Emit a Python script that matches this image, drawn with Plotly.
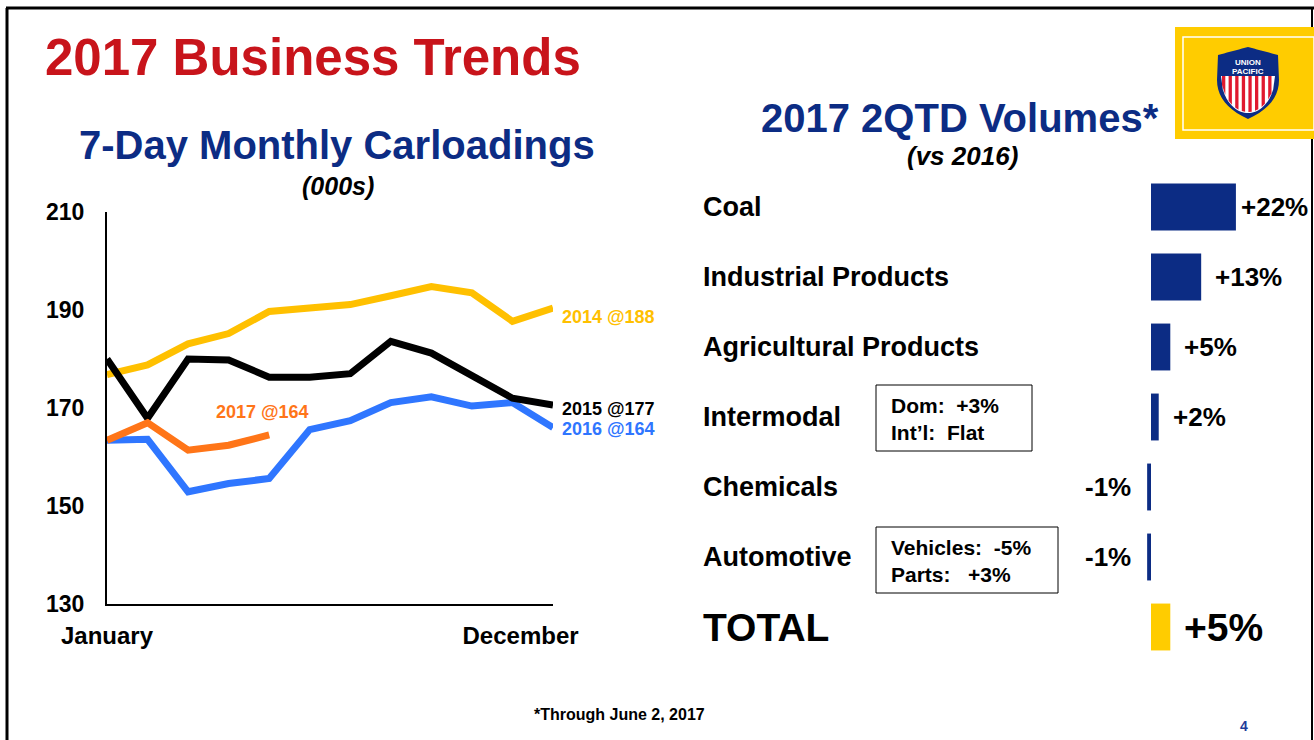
import math
import plotly.graph_objects as go

W, H = 1314, 740
FONT = "Liberation Sans, Arial, sans-serif"

# ---------------- data ----------------
months = list(range(1, 13))
month_tick_labels = ["January", "December"]
y_tick_values = [130, 150, 170, 190, 210]

loads_2014 = [176.8, 178.8, 183.1, 185.2, 189.7, 190.4, 191.1, 192.9, 194.8, 193.5, 187.7, 190.4]
loads_2015 = [180.0, 167.9, 180.0, 179.8, 176.3, 176.3, 177.0, 183.6, 181.2, 176.8, 172.0, 170.6]
loads_2016 = [163.4, 163.6, 152.9, 154.6, 155.6, 165.6, 167.4, 171.1, 172.3, 170.4, 171.1, 166.0]
loads_2017 = [163.4, 167.0, 161.4, 162.4, 164.5]
series_labels = ["2014 @188", "2015 @177", "2016 @164", "2017 @164"]

categories = ["Coal", "Industrial Products", "Agricultural Products", "Intermodal",
              "Chemicals", "Automotive", "TOTAL"]
volume_change = [22, 13, 5, 2, -1, -1, 5]
volume_labels = ["+22%", "+13%", "+5%", "+2%", "-1%", "-1%", "+5%"]

# ---------------- styles ----------------
RED = "#C8141B"
NAVY = "#0C2C84"
YELLOW = "#FFC000"
GOLD = "#FFCC00"
BLUE = "#2F76FF"
ORANGE = "#FF7518"


def px(x):
    return min(max(x / W, 0.0), 1.0)


def py(y):
    return min(max(1 - y / H, 0.0), 1.0)


fig = go.Figure()

# line chart (draw order: 2014, 2016, 2015, 2017)
for vals, color in [(loads_2014, YELLOW), (loads_2016, BLUE), (loads_2015, "black"), (loads_2017, ORANGE)]:
    fig.add_trace(go.Scatter(x=months[:len(vals)], y=vals, mode="lines",
                             line=dict(color=color, width=7), xaxis="x", yaxis="y",
                             hoverinfo="skip", showlegend=False))

# bar chart
bar_colors = [GOLD if c == "TOTAL" else NAVY for c in categories]
fig.add_trace(go.Bar(x=volume_change, y=categories, orientation="h", width=0.67,
                     marker=dict(color=bar_colors, line=dict(width=0)),
                     xaxis="x2", yaxis="y2", hoverinfo="skip", showlegend=False))

annotations = []


def ann(text, x, y, size, color="black", xanchor="center", yanchor="middle", **kw):
    d = dict(text=text, x=x, y=y, xref=kw.pop("xref", "paper"), yref=kw.pop("yref", "paper"),
             xanchor=xanchor, yanchor=yanchor, showarrow=False,
             font=dict(family=FONT, size=size, color=color))
    d.update(kw)
    annotations.append(d)


# titles
ann("<b>2017 Business Trends</b>", px(43), py(58), 51, RED, xanchor="left")
ann("<b>7-Day Monthly Carloadings</b>", px(337), py(145), 40, NAVY)
ann("<b><i>(000s)</i></b>", px(338), py(186), 25)
ann("<b>2017 2QTD Volumes*</b>", px(960), py(118), 40, NAVY)
ann("<b><i>(vs 2016)</i></b>", px(962), py(156), 26)

# series labels
ann("<b>%s</b>" % series_labels[0], px(560), py(317), 18, YELLOW, xanchor="left")
ann("<b>%s</b>" % series_labels[1], px(560), py(409), 18, "black", xanchor="left")
ann("<b>%s</b>" % series_labels[2], px(560), py(429), 18, BLUE, xanchor="left")
ann("<b>%s</b>" % series_labels[3], px(262), py(412), 18, ORANGE)

# category labels and value labels
for cat, val, lab in zip(categories, volume_change, volume_labels):
    big = cat == "TOTAL"
    ann("<b>%s</b>" % cat, px(701), cat, 39 if big else 27, xanchor="left", yref="y2")
    if val > 0:
        ann("<b>%s</b>" % lab, val, cat, 39 if big else 26, xanchor="left", xref="x2", yref="y2",
            xshift=3 if val >= 20 else 12)
    else:
        ann("<b>%s</b>" % lab, val, cat, 26, xanchor="right", xref="x2", yref="y2", xshift=-14)

# note boxes
ann("<b>Dom:&nbsp;&nbsp;+3%<br>Int’l:&nbsp;&nbsp;Flat</b>", px(889), py(419), 21, xanchor="left", align="left")
ann("<b>Vehicles:&nbsp;&nbsp;-5%<br>Parts:&nbsp;&nbsp;&nbsp;+3%</b>", px(889), py(561), 21, xanchor="left", align="left")

# footnote / page
ann("<b>*Through June 2, 2017</b>", px(619), py(714), 16)
ann("<b>4</b>", px(1244), py(726), 14, "#1F3C9A")

# logo text
ann("<b>UNION</b>", px(1248), py(62), 8, "white")
ann("<b>PACIFIC</b>", px(1248), py(71.5), 8, "white")

shapes = []


def pline(x0, y0, x1, y1, width, color="black"):
    shapes.append(dict(type="line", xref="paper", yref="paper", x0=px(x0), y0=py(y0),
                       x1=px(x1), y1=py(y1), line=dict(color=color, width=width)))


def prect(x0, y0, x1, y1, fill=None, lcolor="black", lwidth=1):
    d = dict(type="rect", xref="paper", yref="paper", x0=px(x0), y0=py(y0), x1=px(x1), y1=py(y1),
             line=dict(color=lcolor, width=lwidth))
    if fill:
        d["fillcolor"] = fill
    shapes.append(d)


def ppath(points, fill, lcolor=None, lwidth=0, closed=True):
    s = "M " + " L ".join("%.5f,%.5f" % (px(x), py(y)) for x, y in points)
    if closed:
        s += " Z"
    shapes.append(dict(type="path", xref="paper", yref="paper", path=s, fillcolor=fill,
                       line=dict(color=lcolor or fill, width=lwidth)))


# slide border
pline(7, 8, 7, 740, 3)
pline(6, 8, 1314, 8, 3)
pline(1312, 8, 1312, 740, 2)

# note boxes
prect(876, 385, 1032, 451)
prect(876, 527, 1058, 593)

# logo
prect(1175, 27, 1314, 139, fill=GOLD, lcolor=GOLD, lwidth=0)
prect(1183, 37, 1314, 130, lcolor="white", lwidth=1.5)


def quad(p0, p1, p2, n=10):
    pts = []
    for i in range(n + 1):
        t = i / n
        x = (1 - t) ** 2 * p0[0] + 2 * (1 - t) * t * p1[0] + t ** 2 * p2[0]
        y = (1 - t) ** 2 * p0[1] + 2 * (1 - t) * t * p1[1] + t ** 2 * p2[1]
        pts.append((x, y))
    return pts


outer = (quad((1218, 55), (1233, 51), (1248, 47)) + quad((1248, 47), (1263, 51), (1278, 55))[1:]
         + [(1279, 80)] + quad((1279, 80), (1279, 105), (1248, 119))[1:]
         + quad((1248, 119), (1217, 105), (1217, 80))[1:])
ppath(outer, NAVY)


def ybot(x):
    r = (x - 1248) / 27.0
    return 76 + 37 * math.sqrt(max(0.0, 1 - r * r))


inner = [(1221, 76), (1275, 76)] + [(1275 - i * 54 / 30, ybot(1275 - i * 54 / 30)) for i in range(31)]
ppath(inner, "white")
xs = 1222.0
while xs < 1274:
    xa, xb = xs, min(xs + 3.3, 1274)
    ppath([(xa, 76), (xb, 76), (xb, ybot(xb) - 1), (xa, ybot(xa) - 1)], "#E0192F")
    xs += 6.6

fig.update_layout(
    template="none",
    width=W, height=H, autosize=False,
    margin=dict(l=0, r=0, t=0, b=0, pad=0, autoexpand=False),
    paper_bgcolor="white", plot_bgcolor="white",
    showlegend=False,
    xaxis=dict(domain=[px(107), px(553)], range=[1, 12], anchor="y", automargin=False,
               tickvals=[1, 11.2], ticktext=["<b>%s</b>" % t for t in month_tick_labels],
               tickfont=dict(family=FONT, size=24, color="black"),
               showline=True, linecolor="black", linewidth=2, showgrid=False, zeroline=False,
               ticks="", ticklabelstandoff=9),
    yaxis=dict(domain=[py(604), py(212)], range=[130, 210], anchor="x", automargin=False,
               tickvals=y_tick_values, ticktext=["<b>%d</b>" % v for v in y_tick_values],
               tickfont=dict(family=FONT, size=23, color="black"),
               showline=True, linecolor="black", linewidth=2, showgrid=False, zeroline=False,
               ticks="", ticklabelstandoff=16),
    xaxis2=dict(domain=[px(1100), 1.0], range=[(1100 - 1151) / 3.86, (1314 - 1151) / 3.86],
                anchor="y2", visible=False, automargin=False),
    yaxis2=dict(domain=[py(662), py(172)], type="category", categoryorder="array",
                categoryarray=categories, range=[6.5, -0.5], anchor="x2", visible=False,
                automargin=False),
    annotations=annotations,
    shapes=shapes,
)

fig.write_html("out.html", config={"displayModeBar": False},
               post_script="document.body.style.margin='0';document.body.style.padding='0';"
                           "document.body.style.overflow='hidden';")
